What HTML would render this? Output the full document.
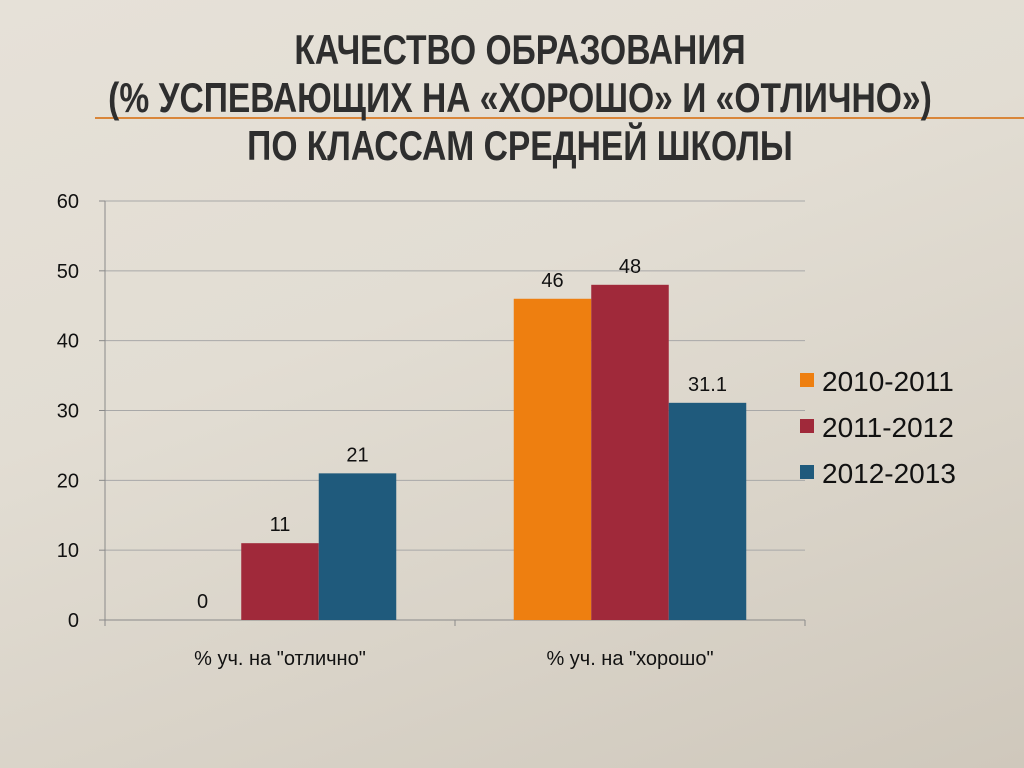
<!DOCTYPE html>
<html><head><meta charset="utf-8"><style>
body{margin:0;width:1024px;height:768px;overflow:hidden;font-family:"Liberation Sans",sans-serif;}
#bg{position:absolute;left:0;top:0;width:1024px;height:768px;background:linear-gradient(160deg,#e6e1d8 0%,#e2ddd3 40%,#d9d3c8 70%,#cfc8bc 100%);}
#title{position:absolute;left:0;top:26px;width:1040px;font-family:"Liberation Sans",sans-serif;font-weight:bold;font-size:42px;line-height:48px;color:#2e2e2e;}
#title div{white-space:nowrap;text-align:center;transform:scaleX(0.8);transform-origin:520px 0;}
#rule{position:absolute;left:95px;top:117px;width:929px;height:2px;background:#d9863a;}
</style></head><body>
<div id="bg"></div>
<div id="rule"></div>
<div id="title"><div>КАЧЕСТВО  ОБРАЗОВАНИЯ</div><div>(%  УСПЕВАЮЩИХ  НА  «ХОРОШО» И «ОТЛИЧНО»)</div><div>ПО  КЛАССАМ  СРЕДНЕЙ  ШКОЛЫ</div></div>
<svg id="chart" width="1024" height="768" style="position:absolute;left:0;top:0"></svg>
<script>
const categories=['% уч. на "отлично"','% уч. на "хорошо"'];
const seriesNames=['2010-2011','2011-2012','2012-2013'];
const s2010=[0,46];
const s2011=[11,48];
const s2012=[21,31.1];
const labels2010=['0','46'];
const labels2011=['11','48'];
const labels2012=['21','31.1'];
const yTicks=[0,10,20,30,40,50,60];
const colors=['#ee7f10','#a0293a','#1f5a7c'];
const NS='http://www.w3.org/2000/svg';
const svg=document.getElementById('chart');
const x0=105,x1=805,yBase=620,yTop=201,yMax=60;
const y=v=>yBase-(yBase-yTop)*v/yMax;
const catW=(x1-x0)/categories.length;
const barW=77.5;
function mk(t,a){const e=document.createElementNS(NS,t);for(const k in a)e.setAttribute(k,a[k]);svg.appendChild(e);return e;}
yTicks.forEach(t=>{
 const l=mk('line',{x1:x0,x2:x1,y1:y(t),y2:y(t),stroke:t===0?'#8a8a8a':'#a8a8a8','stroke-width':1});
 
 
 const tk=mk('line',{x1:x0-6,x2:x0,y1:y(t),y2:y(t),stroke:'#8a8a8a'});
 
 
 const tx=mk('text',{x:x0-26,y:y(t)+7,'text-anchor':'end','font-size':20,fill:'#111','font-family':'Liberation Sans,sans-serif'});
 tx.textContent=t;
 
 
});
const ax=mk('line',{x1:x0,x2:x0,y1:yTop,y2:yBase,stroke:'#8a8a8a'});


for(let i=0;i<=categories.length;i++){
 const t=mk('line',{x1:x0+i*catW,x2:x0+i*catW,y1:yBase,y2:yBase+6,stroke:'#8a8a8a'});
 
 
}
const series=[s2010,s2011,s2012];
const labs=[labels2010,labels2011,labels2012];
categories.forEach((c,ci)=>{
 const cx=x0+catW*(ci+0.5);
 series.forEach((s,si)=>{
  const bx=cx+(si-1.5)*barW;
  const r=mk('rect',{x:bx,y:y(s[ci]),width:barW,height:yBase-y(s[ci]),fill:colors[si]});
  
  
  const t=mk('text',{x:bx+barW/2,y:y(s[ci])-12,'text-anchor':'middle','font-size':20,fill:'#111','font-family':'Liberation Sans,sans-serif'});
  t.textContent=labs[si][ci];
  
  
 });
 const tl=mk('text',{x:cx,y:665,'text-anchor':'middle','font-size':20,fill:'#111','font-family':'Liberation Sans,sans-serif'});
 tl.textContent=c;
 
 
});
seriesNames.forEach((n,i)=>{
 const ly=381+i*46;
 const r=mk('rect',{x:800,y:ly-8,width:14,height:14,fill:colors[i]});
 
 
 const t=mk('text',{x:822,y:ly+10,'font-size':28,fill:'#111','font-family':'Liberation Sans,sans-serif'});
 t.textContent=n;
 
 
});
</script>
</body></html>
